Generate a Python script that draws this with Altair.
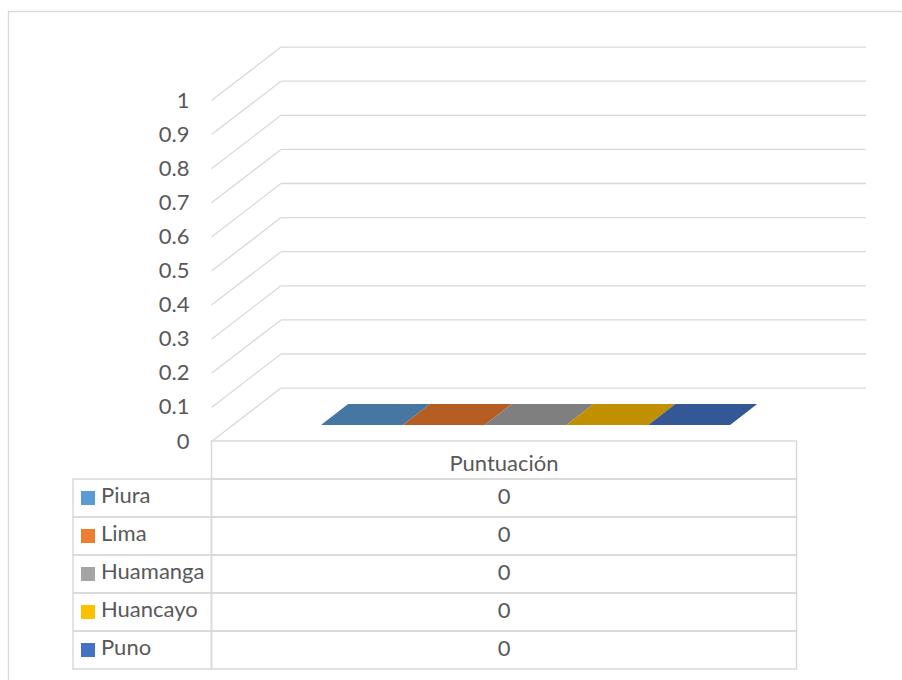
import altair as alt
import pandas as pd

# ---------------- data ----------------
cities = ["Piura", "Lima", "Huamanga", "Huancayo", "Puno"]
scores = [0, 0, 0, 0, 0]
series_title = "Puntuación"
tick_values = [0, 0.1, 0.2, 0.3, 0.4, 0.5, 0.6, 0.7, 0.8, 0.9, 1]
tick_labels = ["0", "0.1", "0.2", "0.3", "0.4", "0.5", "0.6", "0.7", "0.8", "0.9", "1"]
legend_colors = ["#5B9BD5", "#ED7D31", "#A5A5A5", "#FFC000", "#4472C4"]
face_colors = ["#4676A2", "#B45E24", "#7F7F7F", "#C09000", "#345796"]

# ---------------- layout / style ----------------
W, H = 902, 680
FONT = "Lato"
FS = 22
TXT = "#595959"
GRID = "#D9D9D9"
X_RANGE = [211.5, 796.5]          # front floor edge (pixels)
Y_RANGE = [441.5, 100.5]          # value 0 -> 1 on the front plane
DEPTH_DX = 69.5 / 585             # oblique shift of full depth, in x units
DEPTH_DY = 53.4 / 341             # oblique shift of full depth, in value units
BAR_D0, BAR_D1 = 0.31, 0.70       # bar depth (front, back)
GAP = 0.43                        # gap width relative to bar cluster
TABLE_RANGE = [441, 669]

XS = alt.Scale(domain=[0, 1], range=X_RANGE, nice=False, zero=False)
YS = alt.Scale(domain=[0, 1], range=Y_RANGE, nice=False, zero=False)
rows = [series_title] + cities
TS = alt.Scale(domain=rows, range=TABLE_RANGE, paddingInner=0, paddingOuter=0)

# ---------------- derived tables ----------------
ticks = pd.DataFrame({"v": tick_values, "label": tick_labels})
ticks["yb"] = ticks["v"] + DEPTH_DY
ticks["xb0"] = DEPTH_DX
ticks["xb1"] = 1 + DEPTH_DX
ticks["zero"] = 0.0

n = len(cities)
bw = 1 / (1 + GAP) / n
left0 = GAP / 2 / (1 + GAP)
top_rows, front_rows = [], []
for i, (c, s) in enumerate(zip(cities, scores)):
    uL = left0 + i * bw
    for d in (BAR_D0, BAR_D1):
        top_rows.append({"city": c, "yy": s + d * DEPTH_DY,
                         "xl": uL + d * DEPTH_DX, "xr": uL + bw + d * DEPTH_DX})
    front_rows.append({"city": c, "v": s, "v0": 0.0,
                       "xl": uL + BAR_D0 * DEPTH_DX, "xr": uL + bw + BAR_D0 * DEPTH_DX})
tops = pd.DataFrame(top_rows)
fronts = pd.DataFrame(front_rows)

table = pd.DataFrame({"row": cities, "city": cities, "score": scores})
table["u0"], table["u1"], table["um"] = 0.0, 1.0, 0.5
header = pd.DataFrame({"row": [series_title], "u0": [0.0], "u1": [1.0], "um": [0.5]})

# ---------------- layers ----------------
border = alt.Chart(pd.DataFrame({"k": [0]})).mark_rect(
    fill="white", stroke=GRID, strokeWidth=1.3
).encode(x=alt.value(8.5), x2=alt.value(1500), y=alt.value(11.5), y2=alt.value(1500))

back_lines = alt.Chart(ticks).mark_rule(color=GRID, strokeWidth=1.3).encode(
    x=alt.X("xb0:Q", scale=XS, axis=None), x2="xb1:Q",
    y=alt.Y("yb:Q", scale=YS, axis=None))

slants = alt.Chart(ticks).mark_rule(color=GRID, strokeWidth=1.3).encode(
    x=alt.X("xb0:Q", scale=XS, axis=None), x2="zero:Q",
    y=alt.Y("yb:Q", scale=YS, axis=None), y2="v:Q")

tick_text = alt.Chart(ticks).mark_text(
    align="right", baseline="middle", dx=-22, font=FONT, fontSize=FS, color=TXT
).encode(x=alt.X("zero:Q", scale=XS, axis=None),
         y=alt.Y("v:Q", scale=YS, axis=None), text="label:N")

front_faces = alt.Chart(fronts).mark_rect().encode(
    x=alt.X("xl:Q", scale=XS, axis=None), x2="xr:Q",
    y=alt.Y("v0:Q", scale=YS, axis=None), y2="v:Q",
    color=alt.Color("city:N", scale=alt.Scale(domain=cities, range=legend_colors), legend=None))

top_faces = alt.Chart(tops).mark_area(orient="horizontal", opacity=1).encode(
    y=alt.Y("yy:Q", scale=YS, axis=None),
    x=alt.X("xl:Q", scale=XS, axis=None, stack=None), x2="xr:Q",
    fill=alt.Fill("city:N", scale=alt.Scale(domain=cities, range=face_colors), legend=None),
    detail="city:N")

header_cell = alt.Chart(header).mark_rect(fillOpacity=0, fill="white", stroke=GRID, strokeWidth=1.5).encode(
    x=alt.X("u0:Q", scale=XS, axis=None), x2="u1:Q",
    y=alt.Y("row:N", scale=TS, axis=None))

value_cells = alt.Chart(table).mark_rect(fillOpacity=0, fill="white", stroke=GRID, strokeWidth=1.5).encode(
    x=alt.X("u0:Q", scale=XS, axis=None), x2="u1:Q",
    y=alt.Y("row:N", scale=TS, axis=None))

label_cells = alt.Chart(table).mark_rect(fillOpacity=0, fill="white", stroke=GRID, strokeWidth=1.5).encode(
    x=alt.value(73), x2=alt.value(211.5),
    y=alt.Y("row:N", scale=TS, axis=None))

header_text = alt.Chart(header).mark_text(
    baseline="middle", dy=4, font=FONT, fontSize=FS, color=TXT
).encode(x=alt.X("um:Q", scale=XS, axis=None),
         y=alt.Y("row:N", scale=TS, axis=None), text=alt.value(series_title))

value_text = alt.Chart(table).mark_text(
    baseline="middle", dy=-1, font=FONT, fontSize=FS, color=TXT
).encode(x=alt.X("um:Q", scale=XS, axis=None),
         y=alt.Y("row:N", scale=TS, axis=None), text=alt.Text("score:Q", format="~g"))

legend_sq = alt.Chart(table).mark_square(size=196, opacity=1).encode(
    x=alt.value(88), y=alt.Y("row:N", scale=TS, axis=None),
    color=alt.Color("city:N", scale=alt.Scale(domain=cities, range=legend_colors), legend=None))

legend_txt = alt.Chart(table).mark_text(
    align="left", baseline="middle", dy=-2, font=FONT, fontSize=FS, color=TXT
).encode(x=alt.value(101), y=alt.Y("row:N", scale=TS, axis=None), text="city:N")

chart = alt.layer(
    border, back_lines, slants, tick_text, front_faces, top_faces,
    header_cell, value_cells, label_cells, header_text, value_text, legend_sq, legend_txt
).resolve_scale(y="independent").properties(
    width=W, height=H, padding=0,
    autosize=alt.AutoSizeParams(type="none"),
    background="white",
).configure_view(stroke=None)

chart.save("out.html", embed_options={"renderer": "svg", "actions": False})
